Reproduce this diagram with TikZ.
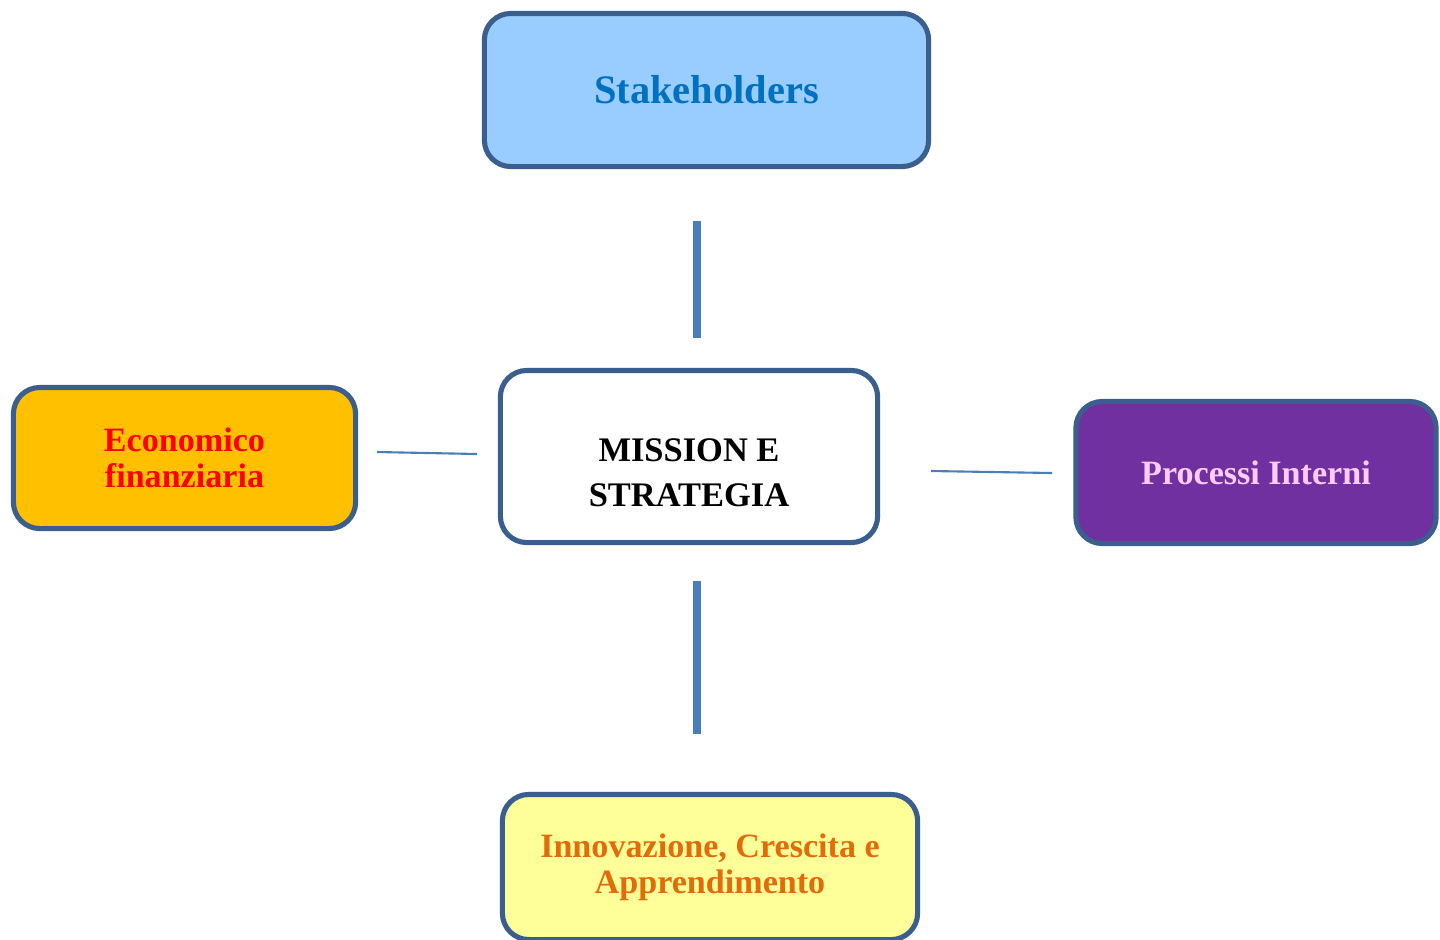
\documentclass[tikz,border=0pt]{standalone}
\usepackage{fontspec}
\setmainfont{Liberation Serif}
\usepackage{tikz}

\definecolor{bordo}{HTML}{3A5F8F}
\definecolor{linea}{HTML}{4A7EBB}
\definecolor{azzurro}{HTML}{99CCFF}
\definecolor{blutesto}{HTML}{0070C0}
\definecolor{giallo}{HTML}{FFC000}
\definecolor{viola}{HTML}{7030A0}
\definecolor{rosa}{HTML}{FFCCFF}
\definecolor{crema}{HTML}{FFFF99}
\definecolor{arancio}{HTML}{E36C0A}

\begin{document}
\begin{tikzpicture}[x=0.01cm, y=-0.01cm,
	box/.style={draw=bordo, line width=1.45pt, rounded corners=7.5pt, align=center,
		font=\bfseries\fontsize{9.7}{10.2}\selectfont, inner sep=0pt},
	bar/.style={linea, line width=2.3pt},
	thin/.style={linea, line width=0.6pt}]
	\useasboundingbox (0,0) rectangle (1440,939);
	% perspectives
	\node[box, fill=azzurro, text=blutesto, minimum width=4.44cm, minimum height=1.53cm,
		font=\bfseries\fontsize{11.5}{12}\selectfont] (stake) at (706.5,90) {Stakeholders};
	\node[box, fill=white, text=black, minimum width=3.77cm, minimum height=1.72cm,
		font=\bfseries\fontsize{9.8}{12.8}\selectfont] (mission) at (689,456.5) {\rule{0pt}{15.8pt}MISSION E\\STRATEGIA};
	\node[box, fill=giallo, text=red, minimum width=3.42cm, minimum height=1.41cm] (econ) at (184.5,458) {Economico\\finanziaria};
	\node[box, fill=viola, text=rosa, minimum width=3.60cm, minimum height=1.42cm] (proc) at (1256,472.5) {Processi Interni};
	\node[box, fill=crema, text=arancio, minimum width=4.15cm, minimum height=1.45cm] (innov) at (710,867) {Innovazione, Crescita e\\Apprendimento};
	% connectors
	\coordinate (up1) at (697,221);
	\coordinate (up2) at (697,338);
	\coordinate (dn1) at (697,581);
	\coordinate (dn2) at (697,734);
	\coordinate (lt1) at (377,452);
	\coordinate (lt2) at (477,454);
	\coordinate (rt1) at (931,471);
	\coordinate (rt2) at (1052,473);
	\draw[bar] (up1) -- (up2);
	\draw[bar] (dn1) -- (dn2);
	\draw[thin] (lt1) -- (lt2);
	\draw[thin] (rt1) -- (rt2);
\end{tikzpicture}
\end{document}
